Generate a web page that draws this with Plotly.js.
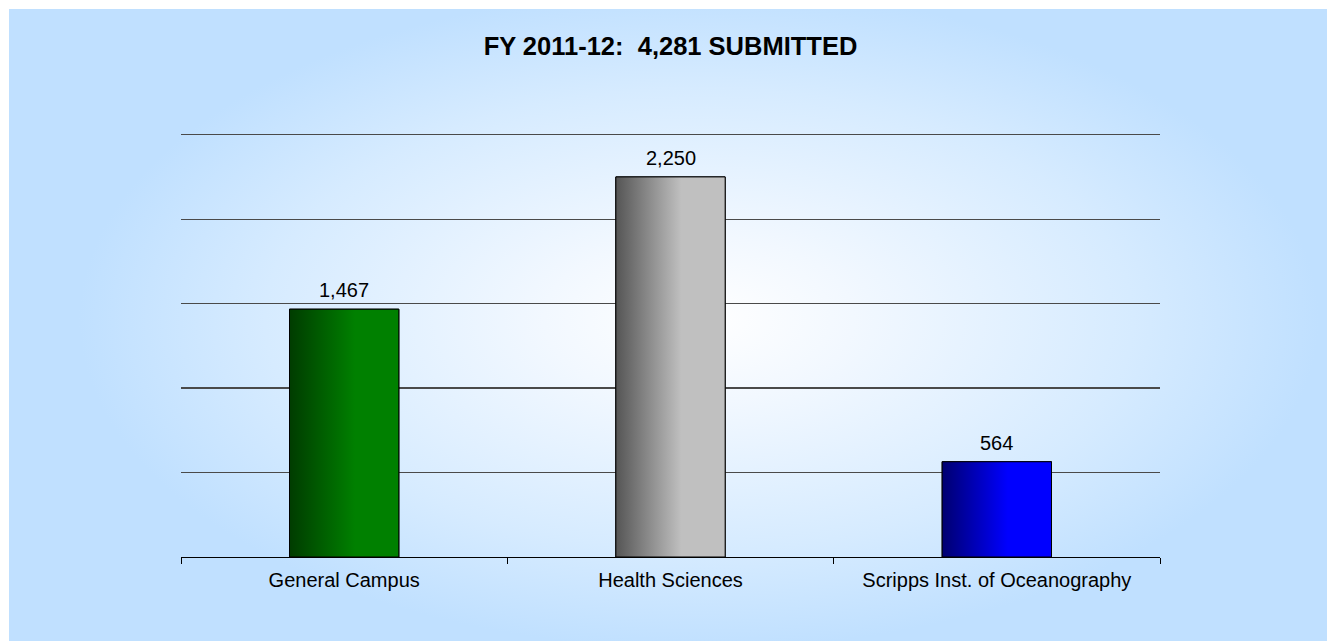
<!DOCTYPE html>
<html>
<head>
<meta charset="utf-8">
<script src="https://cdn.plot.ly/plotly-3.0.1.min.js"></script>
<style>
  html, body { margin: 0; padding: 0; background: #ffffff; overflow: hidden; }
  #wrap { position: relative; width: 1327px; height: 641px; overflow: hidden; background: #ffffff; }
  #bg { position: absolute; left: 9px; top: 9px; width: 1330px; height: 640px;
        background: radial-gradient(ellipse 620px 330px at 690px 310px, #ffffff 0%, #f2f8ff 25%, #d6ebff 70%, #c0e0ff 100%); }
  #chart { position: absolute; left: 0; top: 0; width: 1327px; height: 641px; }
</style>
</head>
<body>
<div id="wrap"><div id="bg"></div><div id="chart"></div></div>
<script>
// ---- data ----
const categories = ["General Campus", "Health Sciences", "Scripps Inst. of Oceanography"];
const submitted = [1467, 2250, 564];
const chartTitle = "FY 2011-12:  4,281 SUBMITTED";
const yTickValues = [0, 500, 1000, 1500, 2000, 2500];

// ---- styles ----
const darkColors = ["#003c00", "#555555", "#000070"];
const brightColors = ["#008000", "#c0c0c0", "#0000ff"];
const barWidth = 0.335;
const FONT = "Liberation Sans, Arial, sans-serif";

const traces = [];
traces.push({
  type: "bar",
  x: categories,
  y: submitted,
  width: barWidth,
  marker: { color: brightColors, line: { color: "#000000", width: 1 } },
  hoverinfo: "x+y",
  showlegend: false
});

// gradient overlays built from the same values, on a hidden numeric axis
submitted.forEach((v, i) => {
  const x0 = i - barWidth / 2, x1 = i + barWidth / 2;
  traces.push({
    type: "scatter",
    xaxis: "x2",
    x: [x0, x1, x1, x0, x0],
    y: [0, 0, v, v, 0],
    mode: "lines",
    fill: "toself",
    fillgradient: {
      type: "horizontal",
      colorscale: [[0, darkColors[i]], [0.6, brightColors[i]], [1, brightColors[i]]]
    },
    line: { color: "#000000", width: 1 },
    hoverinfo: "skip",
    showlegend: false
  });
});

const annotations = submitted.map((v, i) => ({
  x: categories[i], y: v, xref: "x", yref: "y",
  text: v.toLocaleString("en-US"),
  showarrow: false, yanchor: "bottom", yshift: 6,
  font: { family: FONT, size: 20, color: "#000000" }
}));

const layout = {
  width: 1327, height: 641,
  margin: { l: 181, r: 167, t: 133, b: 84, pad: 0 },
  paper_bgcolor: "rgba(0,0,0,0)",
  plot_bgcolor: "rgba(0,0,0,0)",
  title: {
    text: "<b>" + chartTitle + "</b>",
    font: { family: FONT, size: 25.5, color: "#000000" },
    x: 0.5, xref: "paper", xanchor: "center",
    y: 1 - 46 / 641, yref: "container", yanchor: "middle"
  },
  xaxis: {
    type: "category",
    range: [-0.5, 2.5],
    tickson: "boundaries",
    ticks: "outside", ticklen: 6, tickwidth: 1, tickcolor: "#000000",
    ticklabelstandoff: 5,
    showline: true, linecolor: "#000000", linewidth: 1,
    showgrid: false, zeroline: false,
    tickfont: { family: FONT, size: 20, color: "#000000" },
    fixedrange: true
  },
  xaxis2: {
    overlaying: "x", range: [-0.5, 2.5], visible: false, fixedrange: true
  },
  yaxis: {
    range: [0, 2510],
    tickvals: yTickValues,
    showticklabels: false,
    showgrid: true, gridcolor: "#4a4a4a", gridwidth: 1.3,
    zeroline: false, showline: false, ticks: "",
    fixedrange: true
  },
  annotations: annotations,
  showlegend: false
};

Plotly.newPlot("chart", traces, layout, { displayModeBar: false, staticPlot: true });
</script>
</body>
</html>
